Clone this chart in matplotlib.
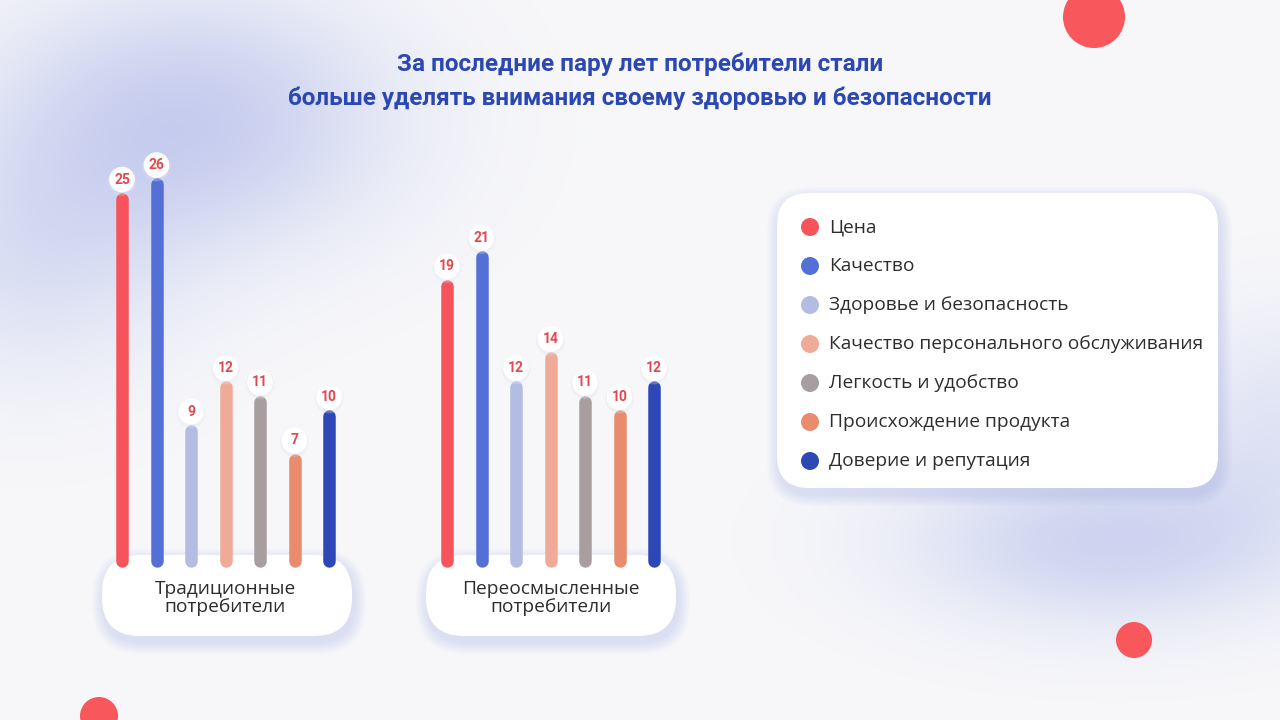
import numpy as np
import matplotlib
matplotlib.use("Agg")
import matplotlib.pyplot as plt
from matplotlib.patches import FancyBboxPatch, Circle
from matplotlib.transforms import offset_copy, blended_transform_factory

# ---------------- data ----------------
title_lines = ["За последние пару лет потребители стали",
               "больше уделять внимания своему здоровью и безопасности"]
groups = ["Традиционные\nпотребители", "Переосмысленные\nпотребители"]
factors = ["Цена", "Качество", "Здоровье и безопасность",
           "Качество персонального обслуживания", "Легкость и удобство",
           "Происхождение продукта", "Доверие и репутация"]
traditional = [25, 26, 9, 12, 11, 7, 10]
rethought = [19, 21, 12, 14, 11, 10, 12]
colors = ["#f6535b", "#5470d6", "#b3bce3", "#efab97", "#a89e9f", "#e98c6e", "#2c47b6"]
values = [traditional, rethought]

# ---------------- figure ----------------
W, H = 1280, 720
fig = plt.figure(figsize=(12.8, 7.2), dpi=100)
bg = fig.add_axes([0, 0, 1, 1])
bg.set_xlim(0, W)
bg.set_ylim(H, 0)
bg.axis("off")

# background with soft blue blobs
yy, xx = np.mgrid[0:H, 0:W]
base = np.array([248, 248, 250]) / 255
blue = np.array([188, 196, 236]) / 255
m = 0.80 * np.exp(-(((xx - 190) / 200) ** 2 + ((yy - 120) / 130) ** 2))
m += 0.40 * np.exp(-(((xx - 30) / 150) ** 2 + ((yy - 260) / 130) ** 2))
m += 0.70 * np.exp(-(((xx - 1110) / 200) ** 2 + ((yy - 540) / 85) ** 2))
m += 0.35 * np.exp(-(((xx - 1280) / 110) ** 2 + ((yy - 420) / 110) ** 2))
m = np.clip(m, 0, 1)[..., None]
img = base * (1 - m) + blue * m
bg.imshow(img, extent=(0, W, H, 0), zorder=0, interpolation="bilinear")

def soft_box(x, y, w, h, r):
    for k in range(8, 0, -1):
        e = k * 1.5
        bg.add_patch(FancyBboxPatch((x - e + 2, y - e + 6), w + 2 * e, h + 2 * e,
                                    boxstyle=f"round,pad=0,rounding_size={r + e}",
                                    fc="#8f9ce0", ec="none", alpha=0.03, zorder=1))
    bg.add_patch(FancyBboxPatch((x, y), w, h, boxstyle=f"round,pad=0,rounding_size={r}",
                                fc="white", ec="none", zorder=2))

soft_box(102, 555, 250, 81, 38)
soft_box(426, 555, 250, 81, 38)
soft_box(777, 193, 441, 295, 32)

# decorative circles
for (cx, cy, r) in [(1094, 17, 31), (1134, 640, 18), (99, 716, 19)]:
    bg.add_patch(Circle((cx, cy), r, fc="#f8575c", ec="none", zorder=2))

# title
for i, line in enumerate(title_lines):
    bg.text(640, 64 + 34 * i, line, ha="center", va="center", fontsize=17.5,
            fontweight="bold", family="Roboto", color="#2b47b1", zorder=3)

# legend
for i, (lab, c) in enumerate(zip(factors, colors)):
    y = 227 + 39 * i
    bg.add_patch(Circle((810, y), 9, fc=c, ec="none", zorder=3))
    bg.text(829, y, lab, ha="left", va="center", fontsize=13.8, family="Open Sans",
            color="#2d2d2d", zorder=3)

# ---------------- bars ----------------
px_per_unit = 14.5
base_px = 561
top_px = 150
ax = fig.add_axes([100 / W, (H - base_px) / H, 580 / W, (base_px - top_px) / H])
ax.patch.set_alpha(0)
ax.axis("off")
spacing = 34.5
group_gap = 325 / spacing
ax.set_xlim((100 - 122) / spacing, (680 - 122) / spacing)
ax.set_ylim(0, (base_px - top_px) / px_per_unit)

lab_trans = offset_copy(ax.transData, fig=fig, x=0, y=19, units="dots")
ghost = offset_copy(ax.transData, fig=fig, x=0, y=17, units="dots")
for g, vals in enumerate(values):
    xs = [g * group_gap + i for i in range(len(vals))]
    ax.vlines(xs, 0, vals, colors=colors, linewidth=12.5 * 72 / 100,
              capstyle="round", clip_on=False, zorder=2)
    ax.scatter(xs, vals, s=430, color="#dfe2f3", alpha=0.3, edgecolors="none",
               transform=ghost, clip_on=False, zorder=3)
    ax.scatter(xs, vals, s=340, color="white", edgecolors="none",
               transform=lab_trans, clip_on=False, zorder=4)
    for x, v in zip(xs, vals):
        ax.text(x, v, str(v), transform=lab_trans, ha="center", va="center",
                fontsize=10, fontweight="bold", family="Roboto", color="#e5474f",
                zorder=5, clip_on=False)
    tr = blended_transform_factory(ax.transData, ax.transAxes)
    ax.text(g * group_gap + 3, (base_px - 598) / (base_px - top_px), groups[g],
            transform=tr, ha="center", va="center", fontsize=13.8, family="Open Sans",
            color="#2d2d2d", linespacing=1.0, clip_on=False, zorder=5)

fig.savefig("out.png", dpi=100)
